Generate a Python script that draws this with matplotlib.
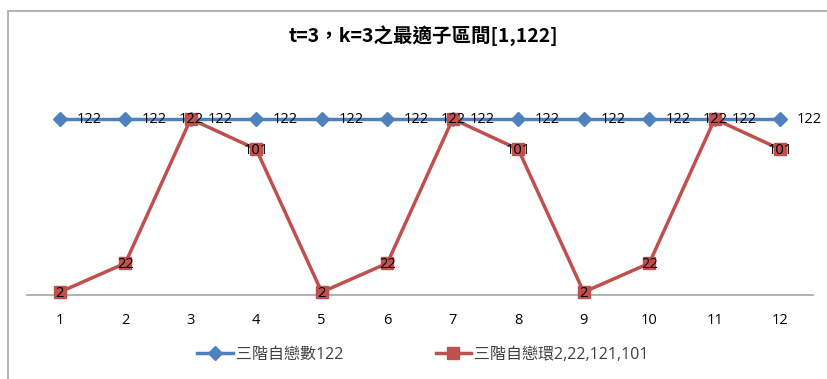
import matplotlib
matplotlib.use("Agg")
import matplotlib.pyplot as plt
from matplotlib.patches import Rectangle

plt.rcParams['font.family'] = ['Open Sans', 'Noto Sans CJK TC', 'DejaVu Sans']

categories = [1, 2, 3, 4, 5, 6, 7, 8, 9, 10, 11, 12]
series_blue = [122, 122, 122, 122, 122, 122, 122, 122, 122, 122, 122, 122]
series_red = [2, 22, 122, 101, 2, 22, 122, 101, 2, 22, 122, 101]
name_blue = "三階自戀數122"
name_red = "三階自戀環2,22,121,101"
title = "t=3，k=3之最適子區間[1,122]"

W, H = 828, 379
fig = plt.figure(figsize=(W / 100, H / 100), dpi=100)
ax = fig.add_axes([27 / W, 1 - 295 / H, (813 - 27) / W, (295 - 93) / H])

blue = '#4F81BD'
red = '#C0504D'

lb, = ax.plot(categories, series_blue, color=blue, lw=2.5, marker='D', ms=7,
              markeredgecolor=blue, clip_on=False, zorder=3)
lr, = ax.plot(categories, series_red, color=red, lw=2.5, marker='s', ms=8.5,
              markeredgecolor=red, clip_on=False, zorder=4)

for x, v in zip(categories, series_blue):
    ax.annotate(str(v), (x, v), xytext=(29, -1), textcoords='offset pixels',
                ha='center', va='center', fontsize=10.5, color='black', zorder=5,
                annotation_clip=False)
for x, v in zip(categories, series_red):
    ax.annotate(str(v), (x, v), xytext=(0, -1), textcoords='offset pixels',
                ha='center', va='center', fontsize=10.5, color='black', zorder=6,
                annotation_clip=False)

ax.set_xlim(0.5, 12.5)
ax.set_ylim(0, 140)
ax.set_xticks(categories)
ax.set_xticklabels([str(c) for c in categories], fontsize=10.5)
ax.tick_params(axis='x', length=0, pad=13)
ax.set_yticks([])
for s in ['left', 'right', 'top']:
    ax.spines[s].set_visible(False)
ax.spines['bottom'].set_color('#A6A6A6')
ax.spines['bottom'].set_linewidth(1.2)
ax.patch.set_visible(False)

fig.text(423 / W, 1 - 36 / H, title, ha='center', va='center', fontsize=14,
         fontweight='bold', color='black', family=['Noto Sans CJK TC', 'DejaVu Sans'])

leg = fig.legend([lb, lr], [name_blue, name_red], loc='center',
                 bbox_to_anchor=(423 / W, 1 - 355 / H), ncol=2, frameon=False,
                 fontsize=11.5, columnspacing=5.8, handlelength=2.2, handletextpad=0.2)
for t in leg.get_texts():
    t.set_color('#404040')

fig.patches.append(Rectangle((8 / W, -0.1), 1.2, 1 - 11 / H + 0.1, transform=fig.transFigure,
                             fill=False, edgecolor='#A6A6A6', lw=1.2))

fig.savefig('out.png', dpi=100)
